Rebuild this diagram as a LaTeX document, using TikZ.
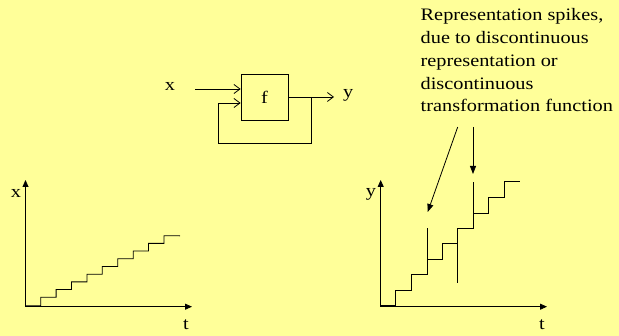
\documentclass[tikz,border=0pt]{standalone}
\usepackage{fontspec}
\setmainfont{Liberation Serif}[FakeStretch=1.16]
\usetikzlibrary{arrows.meta,positioning,calc}
\definecolor{SlideYellow}{HTML}{FFFF99}

\begin{document}
\begin{tikzpicture}[x=1pt, y=-1pt,
    lbl/.style={font=\fontsize{17.5}{22.9}\selectfont, inner sep=0pt},
    block/.style={draw, thick, minimum width=47pt, minimum height=46pt, inner sep=0pt, font=\fontsize{17.5}{20}\selectfont},
    sig/.style={thick, -{Straight Barb[length=6pt, width=9pt]}},
    axis/.style={thick, -{Triangle[length=7pt, width=6pt]}},
    note/.style={thick, -{Triangle[length=8pt, width=6pt]}},
    stair/.style={thick}
  ]
    \fill[SlideYellow] (0,0) rectangle (619,336);
    \useasboundingbox (0,0) rectangle (619,336);

    % block diagram
    \node[block] (f) at (264.5,97) {f};
    \node[lbl] (xin) at (170,86) {x};
    \coordinate (xs) at (195,89);
    \coordinate (fbl) at (218,103);
    \coordinate (fbr) at (311,97);
    \node[lbl, anchor=west] (yout) at (343,95) {y};
    \coordinate (ye) at (334,97);
    \draw[sig] (xs) -- (xs -| f.west);
    \draw[sig] (f.east |- ye) -- (ye);
    \draw[sig] (fbr) -- (fbr |- 0,143) -| (fbl) -- (fbl -| f.west);

    % left plot
    \coordinate (o1) at (25.5,306.7);
    \draw[axis] (o1) -- (25.5,180);
    \draw[axis] (o1) -- (192,306.7);
    \node[lbl] (xlab) at (16,193) {x};
    \node[lbl] (tlab1) at (186,325) {t};
    \draw[stair] (25.5,305.7) -- (40.7,305.7)
      \foreach \i in {0,...,8} {
        |- ({40.7+15.41*(\i+1)}, {297.3-7.7*\i})
      } -- (180,236);

    % right plot
    \coordinate (o2) at (380.7,306.7);
    \draw[axis] (o2) -- (380.7,180);
    \draw[axis] (o2) -- (547,306.7);
    \node[lbl] (ylab) at (371,194) {y};
    \node[lbl] (tlab2) at (542,325) {t};
    \draw[stair] (380.7,305.7) -- (395.7,305.7) |- (411,290) |- (427,274.3)
      |- (442,259) |- (457.3,243.7) |- (473,228) |- (488.3,213.3)
      |- (504.3,197.3) |- (520,181.7);
    % spikes
    \draw[stair] (427,259) -- (427,227.7);
    \draw[stair] (457.3,282.7) -- (457.3,243.7);
    \draw[stair] (473,213.3) -- (473,181.7);

    % annotation
    \node[lbl, anchor=north west, align=left] (spk) at (420.5,8) {Representation spikes,\\due to discontinuous\\representation or\\discontinuous\\transformation function};
    \coordinate (sp1) at (427.7,212);
    \coordinate (sp2) at (473,174);
    \draw[note] (457.7,127) -- (sp1);
    \draw[note] (473,127) -- (sp2);
\end{tikzpicture}
\end{document}
